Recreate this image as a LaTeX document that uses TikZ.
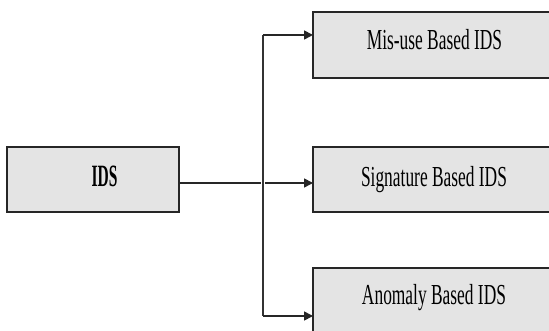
\documentclass[tikz,border=0pt]{standalone}
\usepackage{fontspec}
\usetikzlibrary{arrows.meta}
\newfontfamily\labelfont[FakeStretch=0.6]{Liberation Serif}
\newfontfamily\rootfont[FakeStretch=0.5]{Liberation Serif}
\definecolor{boxfill}{HTML}{E4E4E4}
\definecolor{boxline}{HTML}{262626}
\begin{document}
\begin{tikzpicture}[x=1pt,y=-1pt,
  boxnode/.style={draw=boxline,fill=boxfill,line width=1.8pt,rectangle,
    inner sep=0pt,outer sep=0pt},
  boxtext/.style={anchor=base,inner sep=0pt,font=\labelfont\fontsize{29}{32}\selectfont},
  roottext/.style={anchor=base,inner sep=0pt,font=\rootfont\bfseries\fontsize{31}{34}\selectfont},
  link/.style={draw=black!85,line width=1.7pt},
  uplink/.style={draw=black!80,line width=1.1pt},
  arrowlink/.style={link,-{Triangle[length=9pt,width=9pt]}}]
\useasboundingbox (0,0) rectangle (549,331);
\clip (0,0) rectangle (549,331);
\fill[white] (0,0) rectangle (549,331);

% boxes
\node[boxnode,minimum width=172pt,minimum height=65pt] (ids) at (93,179.5) {};
\node[boxnode,minimum width=247pt,minimum height=66pt] (mis) at (436.5,45) {};
\node[boxnode,minimum width=247pt,minimum height=65pt] (sig) at (436.5,179.5) {};
\node[boxnode,minimum width=247pt,minimum height=77pt] (ano) at (436.5,306.5) {};

% labels
\node[roottext] (idslabel) at (104.5,187) {IDS};
\node[boxtext] (mislabel) at (434.5,50) {Mis-use Based IDS};
\node[boxtext] (siglabel) at (434,187) {Signature Based IDS};
\node[boxtext] (anolabel) at (434,305) {Anomaly Based IDS};

% connectors
\coordinate (mid) at (263,183);
\coordinate (jtop) at (263,35);
\coordinate (jbot) at (263,316);
\draw[arrowlink] (ids.east |- mid) -- (sig.west |- mid);
\draw[uplink,preaction={draw=white,line width=4pt}] (jtop) -- (jbot);
\draw[arrowlink] (jtop) -- (mis.west |- jtop);
\draw[arrowlink] (jbot) -- (ano.west |- jbot);
\end{tikzpicture}
\end{document}
